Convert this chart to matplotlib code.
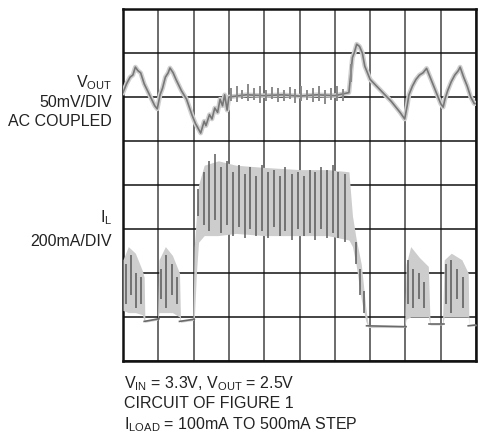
import matplotlib
matplotlib.use("Agg")
import matplotlib.pyplot as plt

plt.rcParams['font.family'] = ['Liberation Sans', 'DejaVu Sans']
plt.rcParams['mathtext.fontset'] = 'custom'
plt.rcParams['mathtext.rm'] = 'Liberation Sans'

# scope screen: 10 x 8 divisions, values in divisions from the bottom-left

# V_OUT trace (AC coupled, centred on division 6)
vout_x = [0.0, 0.1, 0.2, 0.28, 0.35, 0.42, 0.5, 0.6, 0.75, 0.9, 0.97,
          1.05, 1.12, 1.2, 1.28, 1.33, 1.42, 1.5, 1.65, 1.8, 1.95, 2.05, 2.12, 2.2,
          2.3, 2.35, 2.45, 2.52, 2.6, 2.68, 2.75, 2.82, 2.88, 2.95, 3.0,
          3.5, 4.0, 4.5, 5.0, 5.5, 6.0, 6.4,
          6.45, 6.5, 6.55, 6.62, 6.7, 6.78, 6.85, 7.0, 7.3, 7.6, 7.85, 7.98,
          8.05, 8.1, 8.2, 8.3, 8.4, 8.5, 8.6, 8.7, 8.8, 8.9, 9.0, 9.07,
          9.12, 9.2, 9.3, 9.4, 9.5, 9.55, 9.65, 9.75, 9.85, 9.95, 10.0]
vout_y = [6.1, 6.3, 6.45, 6.5, 6.68, 6.6, 6.55, 6.3, 6.05, 5.8, 5.73,
          6.05, 6.2, 6.45, 6.55, 6.66, 6.55, 6.4, 6.15, 5.95, 5.6, 5.4, 5.3, 5.18,
          5.45, 5.35, 5.6, 5.5, 5.75, 5.65, 5.95, 5.8, 6.05, 5.7, 6.0,
          6.05, 6.03, 6.05, 6.02, 6.05, 6.03, 6.1,
          6.5, 6.9, 7.0, 7.2, 7.15, 7.0, 6.7, 6.4, 6.15, 5.9, 5.65, 5.5,
          5.8, 6.05, 6.25, 6.4, 6.5, 6.55, 6.65, 6.45, 6.25, 6.05, 5.85, 5.77,
          5.95, 6.15, 6.35, 6.5, 6.6, 6.68, 6.45, 6.25, 6.0, 5.85, 5.85]

# V_OUT switching ripple spikes in the loaded section
vspike_x = [3.05, 3.22, 3.38, 3.55, 3.72, 3.88, 4.05, 4.22, 4.38, 4.55, 4.72,
            4.88, 5.05, 5.22, 5.38, 5.55, 5.72, 5.88, 6.05, 6.22, 6.45]
vspike_lo = [5.92, 5.88, 5.95, 5.9, 5.93, 5.86, 5.92, 5.95, 5.88, 5.92, 5.95,
             5.86, 5.92, 5.94, 5.88, 5.92, 5.84, 5.94, 5.9, 5.92, 6.35]
vspike_hi = [6.2, 6.25, 6.15, 6.3, 6.2, 6.25, 6.15, 6.22, 6.2, 6.15, 6.22,
             6.18, 6.25, 6.15, 6.2, 6.25, 6.15, 6.2, 6.25, 6.18, 6.75]

# inductor current band (upper / lower envelope)
il_x = [0.0, 0.15, 0.35, 0.55, 0.6, 0.62, 0.98,
        1.02, 1.2, 1.4, 1.6, 1.63, 1.98,
        2.02, 2.08, 2.14, 2.3, 2.7, 3.2, 4.0, 5.0, 5.8, 6.4,
        6.5, 6.6, 6.75, 6.88, 6.95, 7.98,
        8.02, 8.15, 8.4, 8.65, 8.7, 9.05,
        9.1, 9.3, 9.6, 9.78, 9.8, 10.0]
il_top = [2.3, 2.6, 2.45, 2.05, 1.9, 0.92, 0.98,
          2.3, 2.6, 2.4, 2.0, 0.92, 0.96,
          2.6, 3.3, 4.0, 4.45, 4.55, 4.45, 4.4, 4.35, 4.35, 4.3,
          3.3, 2.8, 2.2, 1.2, 0.8, 0.8,
          2.2, 2.6, 2.35, 2.15, 0.85, 0.86,
          2.3, 2.45, 2.3, 2.0, 0.82, 0.84]
il_bot = [1.15, 1.1, 1.1, 1.05, 0.9, 0.88, 0.93,
          1.1, 1.1, 1.1, 1.0, 0.88, 0.92,
          0.95, 2.0, 2.7, 2.85, 2.85, 2.9, 2.85, 2.85, 2.85, 2.75,
          2.6, 2.2, 1.4, 0.9, 0.76, 0.76,
          0.95, 1.0, 1.0, 1.0, 0.82, 0.82,
          1.0, 1.0, 1.0, 1.0, 0.8, 0.8]

# flat low-current stretches between bursts: start, end, start level, end level
il_flat_x0 = [0.6, 1.6, 6.9, 8.68, 9.78]
il_flat_x1 = [1.02, 2.02, 8.02, 9.1, 10.0]
il_flat_y0 = [0.9, 0.9, 0.8, 0.84, 0.8]
il_flat_y1 = [0.96, 0.95, 0.78, 0.84, 0.82]

# dark switching spikes inside the current band
ispike_x = [0.08, 0.22, 0.38, 0.52, 1.08, 1.22, 1.38, 1.52,
            2.12, 2.3, 2.45, 2.62, 2.78, 2.95, 3.12, 3.3, 3.45, 3.6, 3.78, 3.95, 4.1,
            4.28, 4.45, 4.6, 4.78, 4.95, 5.12, 5.3, 5.45, 5.62, 5.78, 5.95, 6.1, 6.28,
            6.6, 6.72, 6.82,
            8.08, 8.22, 8.38, 8.52, 9.15, 9.3, 9.45, 9.62]
ispike_lo = [1.3, 1.5, 1.2, 1.3, 1.4, 1.2, 1.5, 1.3,
             3.3, 3.1, 2.95, 3.2, 2.9, 3.1, 2.85, 3.05, 2.8, 3.0, 2.85, 2.95, 2.8,
             3.05, 2.85, 2.95, 2.75, 3.0, 2.85, 2.9, 2.75, 3.0, 2.8, 2.9, 2.8, 2.7,
             2.2, 1.5, 1.1,
             1.3, 1.2, 1.4, 1.2, 1.3, 1.1, 1.4, 1.2]
ispike_hi = [2.2, 2.4, 2.0, 1.9, 2.1, 2.4, 2.2, 1.9,
             3.9, 4.3, 4.55, 4.7, 4.4, 4.55, 4.3, 4.45, 4.25, 4.4, 4.2, 4.45, 4.3,
             4.35, 4.2, 4.4, 4.25, 4.3, 4.2, 4.35, 4.3, 4.4, 4.35, 4.45, 4.3, 4.25,
             2.7, 2.1, 1.6,
             2.3, 2.1, 2.0, 1.8, 2.2, 2.3, 2.1, 1.9]

left_labels = [(r"V$_{\rm OUT}$", 87), ("50mV/DIV", 107), ("AC COUPLED", 126),
               (r"I$_{\rm L}$", 222), ("200mA/DIV", 246)]
bottom_labels = [(r"V$_{\rm IN}$ = 3.3V, V$_{\rm OUT}$ = 2.5V", 388),
                 ("CIRCUIT OF FIGURE 1", 408),
                 (r"I$_{\rm LOAD}$ = 100mA TO 500mA STEP", 429)]

W, H = 482, 435
fig = plt.figure(figsize=(W / 100, H / 100), dpi=100)
ax = fig.add_axes([123 / W, 1 - 362 / H, 353 / W, 352 / H])
ax.set_xlim(0, 10)
ax.set_ylim(0, 8)
ax.set_xticks(range(11))
ax.set_yticks(range(9))
ax.xaxis.grid(True, color='#444444', linewidth=1.1)
ax.yaxis.grid(True, color='#111111', linewidth=1.1)
ax.tick_params(length=0, labelbottom=False, labelleft=False)
for s in ax.spines.values():
    s.set_linewidth(1.8)
    s.set_color('#111111')

# current band
ax.fill_between(il_x, il_bot, il_top, color='#cdcdcd', linewidth=0, zorder=3)
ax.vlines(ispike_x, ispike_lo, ispike_hi, color='#5a5a5a', linewidth=1.1, zorder=4)
for x0, x1, y0, y1 in zip(il_flat_x0, il_flat_x1, il_flat_y0, il_flat_y1):
    ax.plot([x0, x1], [y0, y1], color='#6a6a6a', linewidth=1.2, zorder=4)

# output voltage
ax.plot(vout_x, vout_y, color='#cfcfcf', linewidth=3.4, zorder=3)
ax.plot(vout_x, vout_y, color='#777777', linewidth=1.2, zorder=4)
ax.vlines(vspike_x, vspike_lo, vspike_hi, color='#8a8a8a', linewidth=1.4, zorder=4)

for txt, y in left_labels:
    fig.text(112 / W, 1 - y / H, txt, ha='right', va='baseline',
             fontsize=11.5, color='#222222')
for txt, y in bottom_labels:
    fig.text(124 / W, 1 - y / H, txt, ha='left', va='baseline',
             fontsize=11.5, color='#222222')

fig.savefig("out.png", dpi=100)
